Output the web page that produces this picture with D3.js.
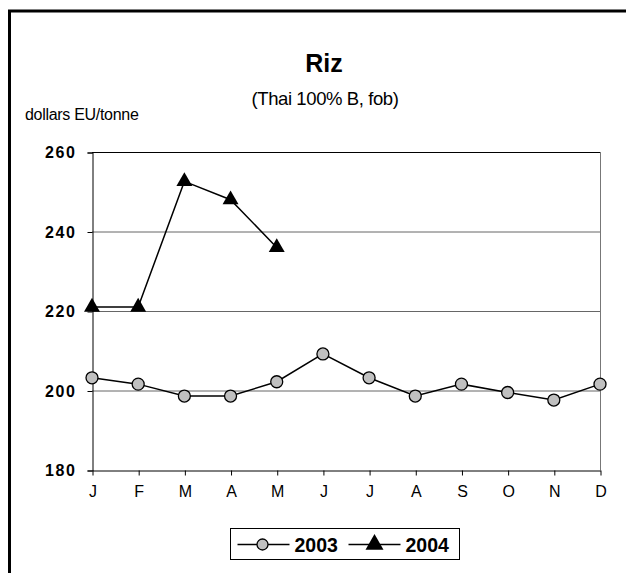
<!DOCTYPE html>
<html>
<head>
<meta charset="utf-8">
<script src="https://cdn.jsdelivr.net/npm/d3@7"></script>
<style>
  body { margin: 0; background: #fff; }
  svg { display: block; font-family: Arial, "Liberation Sans", sans-serif; }
</style>
</head>
<body>
<svg width="626" height="573"></svg>
<script>
const width = 626
const height = 573

// data
const months = ['J', 'F', 'M', 'A', 'M', 'J', 'J', 'A', 'S', 'O', 'N', 'D']
const values2003 = [203.2, 201.6, 198.6, 198.6, 202.2, 209.2, 203.2, 198.6, 201.6, 199.5, 197.6, 201.6]
const values2004 = [221, 221, 252.6, 248, 236]
const yTicks = [180, 200, 220, 240, 260]

const margin = {left: 92, right: 26, top: 152, bottom: 103}
const svg = d3.select('svg')

// outer frame (left and top edges visible)
svg.append('path')
  .attr('d', `M9.5,${height} V11 H${width}`)
  .attr('fill', 'none')
  .attr('stroke', '#000')
  .attr('stroke-width', 3)

const x = d3.scalePoint()
  .domain(d3.range(months.length))
  .range([margin.left, width - margin.right])

const y = d3.scaleLinear()
  .domain([180, 260])
  .range([height - margin.bottom, margin.top])

// gridlines
svg.append('g')
  .selectAll('line')
  .data(yTicks.slice(1, -1))
  .join('line')
  .attr('x1', margin.left).attr('x2', width - margin.right)
  .attr('y1', d => y(d) + 0.5).attr('y2', d => y(d) + 0.5)
  .attr('stroke', '#666')
  .attr('stroke-width', 1)

// plot box: top black, right grey
svg.append('line')
  .attr('x1', margin.left).attr('x2', width - margin.right)
  .attr('y1', y(260) + 0.5).attr('y2', y(260) + 0.5)
  .attr('stroke', '#000')
svg.append('line')
  .attr('x1', width - margin.right + 0.5).attr('x2', width - margin.right + 0.5)
  .attr('y1', y(260)).attr('y2', y(180))
  .attr('stroke', '#777')

// axes
const yAxis = svg.append('g')
  .attr('transform', `translate(${margin.left + 0.5},0.5)`)
  .call(d3.axisLeft(y).tickValues(yTicks).tickSize(5).tickPadding(11))
yAxis.select('.domain').attr('stroke', '#000')
yAxis.selectAll('text')
  .attr('font-size', 16)
  .attr('font-weight', 'bold')
  .attr('letter-spacing', 1.6)
  .attr('fill', '#000')

const xAxis = svg.append('g')
  .attr('transform', `translate(0.5,${y(180) + 0.5})`)
  .call(d3.axisBottom(x).tickFormat(i => months[i]).tickSize(5).tickPadding(10).tickSizeOuter(0))
xAxis.selectAll('text')
  .attr('font-size', 16)
  .attr('fill', '#000')

// titles
svg.append('text')
  .attr('x', 324).attr('y', 72)
  .attr('text-anchor', 'middle')
  .attr('font-size', 25)
  .attr('font-weight', 'bold')
  .text('Riz')
svg.append('text')
  .attr('x', 325).attr('y', 105)
  .attr('text-anchor', 'middle')
  .attr('font-size', 18.5)
  .attr('letter-spacing', -0.4)
  .text('(Thai 100% B, fob)')
svg.append('text')
  .attr('x', 25).attr('y', 120)
  .attr('font-size', 16)
  .attr('letter-spacing', -0.3)
  .text('dollars EU/tonne')

const line = d3.line()
  .x((d, i) => x(i))
  .y(d => y(d))

const triangle = d3.symbol().type(d3.symbolTriangle).size(110)

// series 2003
svg.append('path')
  .datum(values2003)
  .attr('d', line)
  .attr('fill', 'none')
  .attr('stroke', '#000')
  .attr('stroke-width', 1.5)
svg.append('g')
  .selectAll('circle')
  .data(values2003)
  .join('circle')
  .attr('cx', (d, i) => x(i))
  .attr('cy', d => y(d))
  .attr('r', 6)
  .attr('fill', '#c0c0c0')
  .attr('stroke', '#000')
  .attr('stroke-width', 1.3)

// series 2004
svg.append('path')
  .datum(values2004)
  .attr('d', line)
  .attr('fill', 'none')
  .attr('stroke', '#000')
  .attr('stroke-width', 1.5)
svg.append('g')
  .selectAll('path')
  .data(values2004)
  .join('path')
  .attr('d', triangle)
  .attr('transform', (d, i) => `translate(${x(i)},${y(d)})`)
  .attr('fill', '#000')

// legend
const legend = svg.append('g').attr('transform', 'translate(230.5,528.5)')
legend.append('rect')
  .attr('width', 229).attr('height', 31)
  .attr('fill', '#fff')
  .attr('stroke', '#000')
const items = [{label: '2003', x: 7}, {label: '2004', x: 118}]
items.forEach((it, k) => {
  const g = legend.append('g').attr('transform', `translate(${it.x},16)`)
  g.append('line')
    .attr('x1', 0).attr('x2', 52)
    .attr('stroke', '#000').attr('stroke-width', 1.5)
  if (k === 0) {
    g.append('circle').attr('cx', 25).attr('r', 5.5)
      .attr('fill', '#c0c0c0').attr('stroke', '#000').attr('stroke-width', 1.3)
  } else {
    g.append('path').attr('d', d3.symbol().type(d3.symbolTriangle).size(140)).attr('transform', 'translate(26,0)')
  }
  g.append('text')
    .attr('x', 57).attr('y', 7)
    .attr('font-size', 19.5)
    .attr('font-weight', 'bold')
    .text(it.label)
})
</script>
</body>
</html>
